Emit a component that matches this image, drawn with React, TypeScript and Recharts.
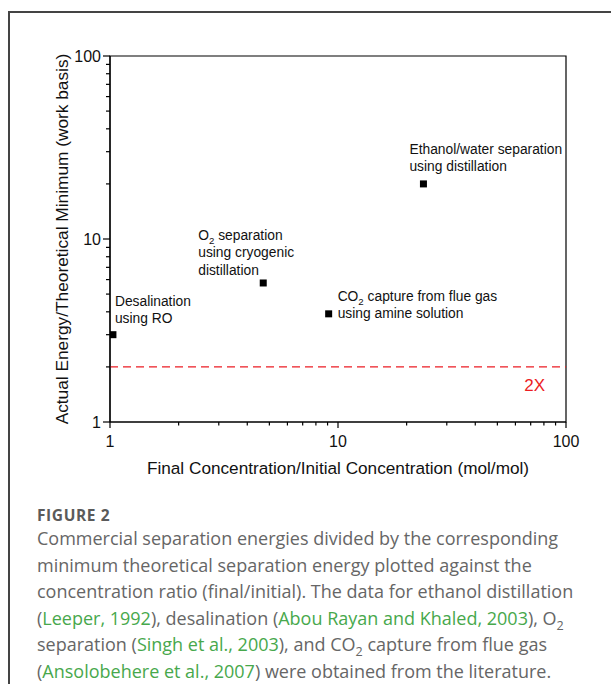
import React from "react";
import {
  ScatterChart,
  Scatter,
  XAxis,
  YAxis,
  ReferenceLine,
  ReferenceArea,
} from "recharts";

// values
const processes = ["Desalination", "O2 separation", "CO2 capture", "Ethanol/water"];
const concentrationRatio = [1.03, 4.7, 9.1, 23.7];
const energyRatio = [3.0, 5.75, 3.9, 20];
const annotations = [
  ["Desalination", "using RO"],
  ["O₂ separation", "using cryogenic", "distillation"],
  ["CO₂ capture from flue gas", "using amine solution"],
  ["Ethanol/water separation", "using distillation"],
];
const logTicks = [1, 2, 3, 4, 5, 6, 7, 8, 9, 10, 20, 30, 40, 50, 60, 70, 80, 90, 100];
const majorTicks = [1, 10, 100];
const twoXLevel = 2;
const twoXLabel = "2X";

const xTitle = "Final Concentration/Initial Concentration (mol/mol)";
const yTitle = "Actual Energy/Theoretical Minimum (work basis)";

// where each annotation sits relative to its marker
const annotationOffset = [
  { dx: 2, dy: -29 },
  { dx: -65, dy: -43 },
  { dx: 9, dy: -13 },
  { dx: -14, dy: -30 },
];
const lineGap = 17.5;

const points = processes.map((name, i) => ({
  name,
  i,
  x: concentrationRatio[i],
  y: energyRatio[i],
}));

const chartFont = "'Liberation Sans', Arial, sans-serif";

const withSub = (s: string) => {
  const parts = s.split("₂");
  if (parts.length === 1) return s;
  return [
    <tspan key="a">{parts[0]}</tspan>,
    <tspan key="b" fontSize="0.7em" dy={4}>2</tspan>,
    <tspan key="c" dy={-4}>{parts[1]}</tspan>,
  ];
};

const Marker = (props: any) => {
  const { cx, cy, payload } = props;
  const off = annotationOffset[payload.i];
  return (
    <g>
      <rect x={cx - 3.5} y={cy - 3.5} width={7} height={7} fill="#000" />
      {annotations[payload.i].map((line, k) => (
        <text
          key={k}
          x={cx + off.dx}
          y={cy + off.dy + k * lineGap}
          fontSize={13.8}
          fontFamily={chartFont}
          fill="#111"
        >
          {withSub(line)}
        </text>
      ))}
    </g>
  );
};

const XTick = (props: any) => {
  const { x, y, payload } = props;
  const major = majorTicks.includes(payload.value);
  return (
    <g>
      <line x1={x} y1={y} x2={x} y2={y + (major ? 6 : 3.5)} stroke="#000" strokeWidth={1.2} />
      {major && (
        <text x={x} y={y + 25} textAnchor="middle" fontSize={16} fontFamily={chartFont} fill="#111">
          {payload.value}
        </text>
      )}
    </g>
  );
};

const YTick = (props: any) => {
  const { x, y, payload } = props;
  const major = majorTicks.includes(payload.value);
  return (
    <g>
      <line x1={x - (major ? 7 : 4)} y1={y} x2={x} y2={y} stroke="#000" strokeWidth={1.2} />
      {major && (
        <text
          x={x - 9}
          y={y}
          dy={5.6}
          textAnchor="end"
          fontSize={16}
          fontFamily={chartFont}
          fill="#111"
        >
          {payload.value}
        </text>
      )}
    </g>
  );
};

const green = "#47a84c";
const Ref = ({ children }: { children: React.ReactNode }) => (
  <span style={{ color: green }}>{children}</span>
);

export default function App() {
  return (
    <div
      style={{
        position: "absolute",
        left: 0,
        top: 0,
        width: 611,
        height: 684,
        overflow: "hidden",
        background: "#fff",
      }}
    >
      <div
        style={{
          position: "absolute",
          left: 8,
          top: 11,
          width: 700,
          height: 800,
          borderTop: "2px solid #444",
          borderLeft: "2px solid #444",
        }}
      />
      <div style={{ position: "absolute", left: 0, top: 0 }}>
        <ScatterChart
          width={611}
          height={490}
          margin={{ top: 56, right: 45, bottom: 8, left: 40 }}
        >
          <ReferenceArea
            x1={1}
            x2={100}
            y1={1}
            y2={100}
            fill="none"
            fillOpacity={0}
            stroke="#000"
            strokeWidth={1.2}
          />
          <XAxis
            dataKey="x"
            type="number"
            scale="log"
            domain={[1, 100]}
            allowDataOverflow
            ticks={logTicks}
            interval={0}
            tickSize={0}
            tickMargin={0}
            tickLine={false}
            tick={<XTick />}
            height={60}
            axisLine={{ stroke: "#000", strokeWidth: 1.2 }}
            label={({ viewBox }: any) => (
              <text
                x={viewBox.x + viewBox.width / 2}
                y={viewBox.y + 52}
                textAnchor="middle"
                fontSize={17.2}
                fontFamily={chartFont}
                fill="#111"
              >
                {xTitle}
              </text>
            )}
          />
          <YAxis
            dataKey="y"
            type="number"
            scale="log"
            domain={[1, 100]}
            allowDataOverflow
            ticks={logTicks}
            interval={0}
            tickSize={0}
            tickMargin={0}
            tickLine={false}
            tick={<YTick />}
            width={70}
            axisLine={{ stroke: "#000", strokeWidth: 1.2 }}
            label={({ viewBox }: any) => {
              const cx = viewBox.x + 22;
              const cy = viewBox.y + viewBox.height / 2;
              return (
                <text
                  x={cx}
                  y={cy}
                  transform={`rotate(-90, ${cx}, ${cy})`}
                  textAnchor="middle"
                  dominantBaseline="central"
                  fontSize={17.3}
                  fontFamily={chartFont}
                  fill="#111"
                >
                  {yTitle}
                </text>
              );
            }}
          />
          <ReferenceLine
            y={twoXLevel}
            stroke="#ec1c24"
            strokeWidth={1.3}
            strokeDasharray="8 5"
            label={({ viewBox }: any) => (
              <text
                x={viewBox.x + viewBox.width - 21}
                y={viewBox.y + 24}
                textAnchor="end"
                fontSize={17}
                fontFamily={chartFont}
                fill="#ec1c24"
              >
                {twoXLabel}
              </text>
            )}
          />
          <Scatter data={points} shape={<Marker />} isAnimationActive={false} />
        </ScatterChart>
      </div>
      <div
        style={{
          position: "absolute",
          left: 37,
          top: 505,
          width: 574,
          fontFamily: "'Open Sans', sans-serif",
          color: "#666",
          whiteSpace: "nowrap",
        }}
      >
        <div
          style={{
            fontSize: 15.5,
            fontWeight: 700,
            color: "#5a5a5a",
            lineHeight: "20px",
            letterSpacing: 0.6,
          }}
        >
          FIGURE 2
        </div>
        <div style={{ fontSize: 18, lineHeight: "26.5px" }}>
          Commercial separation energies divided by the corresponding
          <br />
          minimum theoretical separation energy plotted against the
          <br />
          concentration ratio (final/initial). The data for ethanol distillation
          <br />(<Ref>Leeper, 1992</Ref>), desalination (<Ref>Abou Rayan and Khaled, 2003</Ref>), O
          <sub style={{ fontSize: "0.7em", lineHeight: 0 }}>2</sub>
          <br />
          separation (<Ref>Singh et al., 2003</Ref>), and CO
          <sub style={{ fontSize: "0.7em", lineHeight: 0 }}>2</sub> capture from flue gas
          <br />(<Ref>Ansolobehere et al., 2007</Ref>) were obtained from the literature.
        </div>
      </div>
    </div>
  );
}
